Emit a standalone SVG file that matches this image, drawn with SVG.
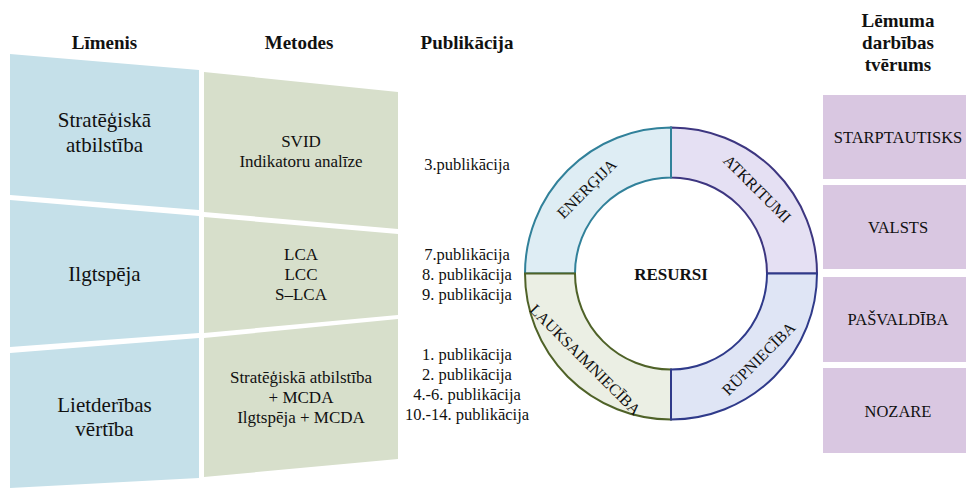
<svg xmlns="http://www.w3.org/2000/svg" width="966" height="489" viewBox="0 0 966 489" font-family="'Liberation Serif', 'DejaVu Serif', serif">
<style>
text{font-family:'Liberation Serif','DejaVu Serif',serif;fill:#111}
.hd{font-size:19px;font-weight:bold;text-anchor:middle}
.lv{font-size:21px;text-anchor:middle}
.mt{font-size:17px;text-anchor:middle}
.pb{font-size:16.5px;text-anchor:middle}
.sc{font-size:16.5px;text-anchor:middle}
.rg{font-size:16px;text-anchor:middle}
.blue{fill:#c5e0e9}
.green{fill:#d7dfcb}
.purple{fill:#d9c7e1}
</style>
<rect width="966" height="489" fill="#fff"/>
<g id="headers">
<text class="hd" x="104.5" y="49">Līmenis</text>
<text class="hd" x="299" y="49">Metodes</text>
<text class="hd" x="467" y="49">Publikācija</text>
<text class="hd" x="898" y="27">Lēmuma</text>
<text class="hd" x="898" y="49">darbības</text>
<text class="hd" x="898" y="71">tvērums</text>
</g>
<g id="level-strategic">
<polygon class="blue" points="10,54 199,70 199,210 10,195"/>
<text class="lv" x="104.5" y="127">Stratēģiskā</text>
<text class="lv" x="104.5" y="152">atbilstība</text>
</g>
<g id="level-sustainability">
<polygon class="blue" points="10,200 199,216 199,333 10,347"/>
<text class="lv" x="104.5" y="281">Ilgtspēja</text>
</g>
<g id="level-utility">
<polygon class="blue" points="10,353 199,338 199,478 10,488"/>
<text class="lv" x="104.5" y="412">Lietderības</text>
<text class="lv" x="104.5" y="436">vērtība</text>
</g>
<g id="methods-strategic">
<polygon class="green" points="204,72 398,92 398,229 204,212"/>
<text class="mt" x="301" y="147">SVID</text>
<text class="mt" x="301" y="167">Indikatoru analīze</text>
</g>
<g id="methods-sustainability">
<polygon class="green" points="204,217 398,234 398,315 204,333"/>
<text class="mt" x="301" y="260">LCA</text>
<text class="mt" x="301" y="280">LCC</text>
<text class="mt" x="301" y="300">S–LCA</text>
</g>
<g id="methods-utility">
<polygon class="green" points="204,338 398,319 398,459 204,477"/>
<text class="mt" x="301" y="383">Stratēģiskā atbilstība</text>
<text class="mt" x="301" y="403">+ MCDA</text>
<text class="mt" x="301" y="423">Ilgtspēja + MCDA</text>
</g>
<g id="publications">
<text class="pb" x="467" y="170">3.publikācija</text>
<text class="pb" x="467" y="260">7.publikācija</text>
<text class="pb" x="467" y="280">8. publikācija</text>
<text class="pb" x="467" y="300">9. publikācija</text>
<text class="pb" x="467" y="360">1. publikācija</text>
<text class="pb" x="467" y="380">2. publikācija</text>
<text class="pb" x="467" y="400">4.-6. publikācija</text>
<text class="pb" x="467" y="420">10.-14. publikācija</text>
</g>
<g id="ring-atkritumi">
<path d="M671,127.5 A146,146 0 0 1 817,273.5 L767,273.5 A96,96 0 0 0 671,177.5 Z" fill="#e5e0f3" stroke="#3d3680" stroke-width="2"/>
<text class="rg" transform="translate(757,189) rotate(45)" x="0" y="5">ATKRITUMI</text>
</g>
<g id="ring-energija">
<path d="M525,273.5 A146,146 0 0 1 671,127.5 L671,177.5 A96,96 0 0 0 575,273.5 Z" fill="#deedf4" stroke="#31819a" stroke-width="2"/>
<text class="rg" transform="translate(587,189) rotate(-45)" x="0" y="5">ENERĢIJA</text>
</g>
<g id="ring-lauksaimnieciba">
<path d="M671,419.5 A146,146 0 0 1 525,273.5 L575,273.5 A96,96 0 0 0 671,369.5 Z" fill="#ebefe4" stroke="#4f6228" stroke-width="2"/>
<text class="rg" transform="translate(585,360) rotate(45)" x="0" y="5">LAUKSAIMNIECĪBA</text>
</g>
<g id="ring-rupnieciba">
<path d="M817,273.5 A146,146 0 0 1 671,419.5 L671,369.5 A96,96 0 0 0 767,273.5 Z" fill="#dfe5f5" stroke="#2f3a8a" stroke-width="2"/>
<text class="rg" transform="translate(759,359) rotate(-45)" x="0" y="5">RŪPNIECĪBA</text>
</g>
<g id="resursi">
<text x="671" y="280" style="font-size:17px;font-weight:bold;text-anchor:middle">RESURSI</text>
</g>
<g id="scope-international">
<rect class="purple" x="823" y="95" width="143" height="84"/>
<text class="sc" x="898" y="143">STARPTAUTISKS</text>
</g>
<g id="scope-state">
<rect class="purple" x="823" y="185" width="143" height="84"/>
<text class="sc" x="898" y="233">VALSTS</text>
</g>
<g id="scope-municipality">
<rect class="purple" x="823" y="277" width="143" height="85"/>
<text class="sc" x="898" y="325">PAŠVALDĪBA</text>
</g>
<g id="scope-sector">
<rect class="purple" x="823" y="368" width="143" height="85"/>
<text class="sc" x="898" y="417">NOZARE</text>
</g>
<g id="connectors"></g>
</svg>
